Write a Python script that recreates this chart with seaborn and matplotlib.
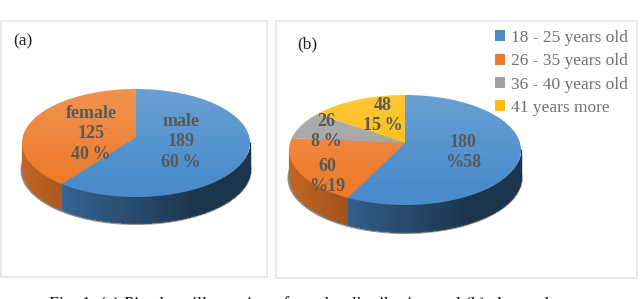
import numpy as np
import matplotlib
matplotlib.use('Agg')
import matplotlib.pyplot as plt
from matplotlib.patches import Ellipse, Rectangle
import seaborn as sns

# values
gender_labels = ['male', 'female']
gender_counts = [189, 125]
gender_text = ['male\n189\n60\u2009%', 'female\n125\n40\u2009%']

age_labels = ['18 - 25 years old', '26 - 35 years old', '36 - 40 years old', '41 years more']
age_counts = [180, 60, 26, 48]
age_text = ['180\n%58', '60\n%19', '26\n8\u2009%', '48\n15\u2009%']

caption = 'Fig. 1. (a) Pie chart illustration of gender distribution and (b) shows the age'

sns.set_theme(style='white')
plt.rcParams['font.family'] = ['Liberation Serif', 'DejaVu Serif']
colors = sns.color_palette(['#4a8ccb', '#ee7b2b', '#a0a0a0', '#fdbb0c'])

W, H = 640, 299
fig = plt.figure(figsize=(W / 100, H / 100), dpi=100)
bg = fig.add_axes([0, 0, 1, 1])
bg.set_xlim(0, W)
bg.set_ylim(H, 0)
bg.axis('off')


def pie3d(values, cx, cy, rx, ry, apex_y, depth):
    cols = colors[:len(values)]
    # soft shadow under the disc
    bg.add_patch(Ellipse((cx, cy + depth + 1), 2 * rx + 3, 2 * ry + 2, color='#8c8c8c', lw=0))

    # side wall, one thin column per half pixel
    frac = np.cumsum(values) / np.sum(values)
    xs = np.arange(cx - rx, cx + rx + 0.5, 0.5)
    nx = np.clip((xs - cx) / rx, -1, 1)
    top = cy + ry * np.sqrt(1 - nx ** 2)
    theta = np.arctan2(nx, (apex_y - top) / ry) % (2 * np.pi) / (2 * np.pi)
    idx = np.minimum(np.searchsorted(frac, theta), len(values) - 1)
    shade = np.clip(0.82 - 0.58 * (nx + 1) / 2, 0.38, 1)
    side = [tuple(np.array(cols[i]) * s) for i, s in zip(idx, shade)]
    bg.vlines(xs, top - 1, top + depth, colors=side, lw=0.9)

    # top face: a pie with its apex off centre, clipped to the ellipse
    lim = 1.4
    ax = fig.add_axes([(cx - lim * rx) / W, 1 - (apex_y + lim * ry) / H,
                       2 * lim * rx / W, 2 * lim * ry / H])
    wedges, _ = ax.pie(values, colors=cols, startangle=90, counterclock=False,
                       radius=1.35, wedgeprops={'linewidth': 0})
    edge = Ellipse((0, (apex_y - cy) / ry), 2, 2, transform=ax.transData)
    for w in wedges:
        w.set_clip_on(True)
        w.set_clip_path(edge)
    grad = np.ones((100, 1, 4))
    grad[..., 3] = np.clip(np.linspace(0.22, -0.05, 100), 0, 1)[:, None]
    im = ax.imshow(grad, extent=(-1, 1, -1.3, 1.3), aspect='auto', zorder=5)
    im.set_clip_path(edge)
    ax.set_aspect('auto')
    ax.set_xlim(-lim, lim)
    ax.set_ylim(-lim, lim)
    ax.patch.set_visible(False)
    return ax, wedges


def slice_label(ax, x, y, s):
    # y is the baseline of the first line, lines sit 20 px apart
    for i, line in enumerate(s.split('\n')):
        ax.text(x, y + i * 20.3, line, transform=bg.transData, ha='center', va='baseline',
                color='#595959', fontweight='bold', fontsize=13, zorder=10)


# panel frames
for x0, y0, x1, y1 in [(1, 20.5, 267, 277), (276, 21, 637, 278)]:
    bg.add_patch(Rectangle((x0, y0), x1 - x0, y1 - y0, fill=False, ec='#e2e2e2', lw=1.1))

ax_a, _ = pie3d(gender_counts, 136, 143, 114, 54, 137, 26)
ax_b, wedges_b = pie3d(age_counts, 405, 150, 116, 55, 143, 27)

for (x, y), s in zip([(181, 126), (91, 118)], gender_text):
    slice_label(ax_a, x, y, s)
for (x, y), s in zip([(463, 147), (327, 171), (326, 126), (383, 110)], age_text):
    slice_label(ax_b, x, y, s)

bg.text(13, 41, '(a)', fontsize=12.5, color='#222222', va='center')
bg.text(297, 44, '(b)', fontsize=12.5, color='#222222', va='center')

leg = bg.legend(wedges_b, age_labels, loc='upper left', bbox_to_anchor=(495, 30),
                bbox_transform=bg.transData, frameon=False, fontsize=12.5,
                labelspacing=0.42, handlelength=0.6, handleheight=0.6,
                handletextpad=0.35, borderpad=0, borderaxespad=0)
for t in leg.get_texts():
    t.set_color('#707070')

bg.text(49, 296, caption, fontsize=13, color='#111111', va='top', clip_on=False)

fig.savefig('out.png', dpi=100)
